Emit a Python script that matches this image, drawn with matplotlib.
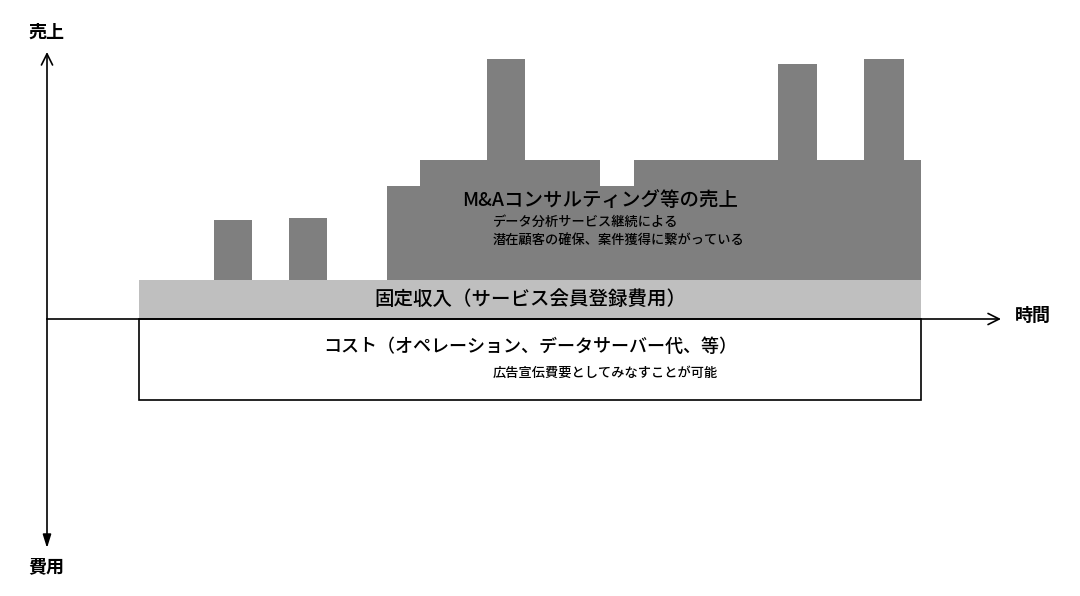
import matplotlib
matplotlib.use("Agg")
import matplotlib.pyplot as plt
from matplotlib.patches import Rectangle
import numpy as np

plt.rcParams['font.family'] = ['Noto Sans CJK JP', 'DejaVu Sans']

# ---- data (time units along x, amount along y; origin = axis crossing) ----
service_start = 92
service_end = 874
fixed_income = 39          # 固定収入 level
cost_level = -81           # コスト depth

spot_starts = [167, 242]
spot_ends = [205, 280]
spot_tops = [99, 101]

step_edges = [340, 373, 440, 478, 553, 587, 731, 770, 817, 857, 874]
step_levels = [133, 159, 260, 159, 133, 159, 255, 159, 260, 159]

label_up = '売上'
label_down = '費用'
label_time = '時間'
text_ma = 'M&Aコンサルティング等の売上'
text_ma_sub = 'データ分析サービス継続による\n潜在顧客の確保、案件獲得に繋がっている'
text_fixed = '固定収入（サービス会員登録費用）'
text_cost = 'コスト（オペレーション、データサーバー代、等）'
text_cost_sub = '広告宣伝費要としてみなすことが可能'

DARK = '#7f7f7f'
LIGHT = '#bfbfbf'

fig = plt.figure(figsize=(10.8, 5.96), dpi=100)
ax = fig.add_axes([0, 0, 1, 1])
ax.set_xlim(-47, 1033)
ax.set_ylim(-277, 319)
ax.axis('off')

# fixed income band
ax.bar(service_start, fixed_income, width=service_end - service_start,
       align='edge', bottom=0, color=LIGHT, edgecolor='none', zorder=1)

# spot sales bars
for s, e, t in zip(spot_starts, spot_ends, spot_tops):
    ax.bar(s, t - fixed_income, width=e - s, align='edge', bottom=fixed_income,
           color=DARK, edgecolor='none', zorder=1)

# M&A consulting step area
edges = np.array(step_edges)
levels = np.array(step_levels)
ax.bar(edges[:-1], levels - fixed_income, width=np.diff(edges), align='edge',
       bottom=fixed_income, color=DARK, edgecolor='none', linewidth=0, zorder=1)

# cost box
ax.add_patch(Rectangle((service_start, cost_level), service_end - service_start,
                       -cost_level, facecolor='white', edgecolor='black',
                       linewidth=1.2, zorder=2))

# axes arrows
ax.annotate('', xy=(0, 267), xytext=(0, 0),
            arrowprops=dict(arrowstyle='->,head_length=0.8,head_width=0.4',
                            lw=1.2, color='black', shrinkA=0, shrinkB=0), zorder=3)
ax.annotate('', xy=(0, -229), xytext=(0, 0),
            arrowprops=dict(arrowstyle='-|>,head_length=0.8,head_width=0.25',
                            lw=1.2, color='black', shrinkA=0, shrinkB=0), zorder=3)
ax.annotate('', xy=(954, 0), xytext=(0, 0),
            arrowprops=dict(arrowstyle='->,head_length=0.8,head_width=0.4',
                            lw=1.2, color='black', shrinkA=0, shrinkB=0), zorder=3)

W = 'medium'
# labels
ax.text(-1, 287, label_up, fontsize=13, ha='center', va='center', fontweight='bold')
ax.text(-1, -248, label_down, fontsize=13, ha='center', va='center', fontweight='bold')
ax.text(986, 4, label_time, fontsize=13, ha='center', va='center', fontweight='bold')

ax.text(553, 119, text_ma, fontsize=14, ha='center', va='center', zorder=4,
        fontweight=W)
ax.text(446, 88, text_ma_sub, fontsize=9.5, ha='left', va='center',
        linespacing=1.45, zorder=4, fontweight=W)
ax.text(483, 20, text_fixed, fontsize=14, ha='center', va='center', zorder=4,
        fontweight=W)
ax.text(483, -28, text_cost, fontsize=13, ha='center', va='center', zorder=4,
        fontweight=W)
ax.text(446, -54, text_cost_sub, fontsize=9.5, ha='left', va='center', zorder=4,
        fontweight=W)

fig.savefig('out.png', dpi=100)
